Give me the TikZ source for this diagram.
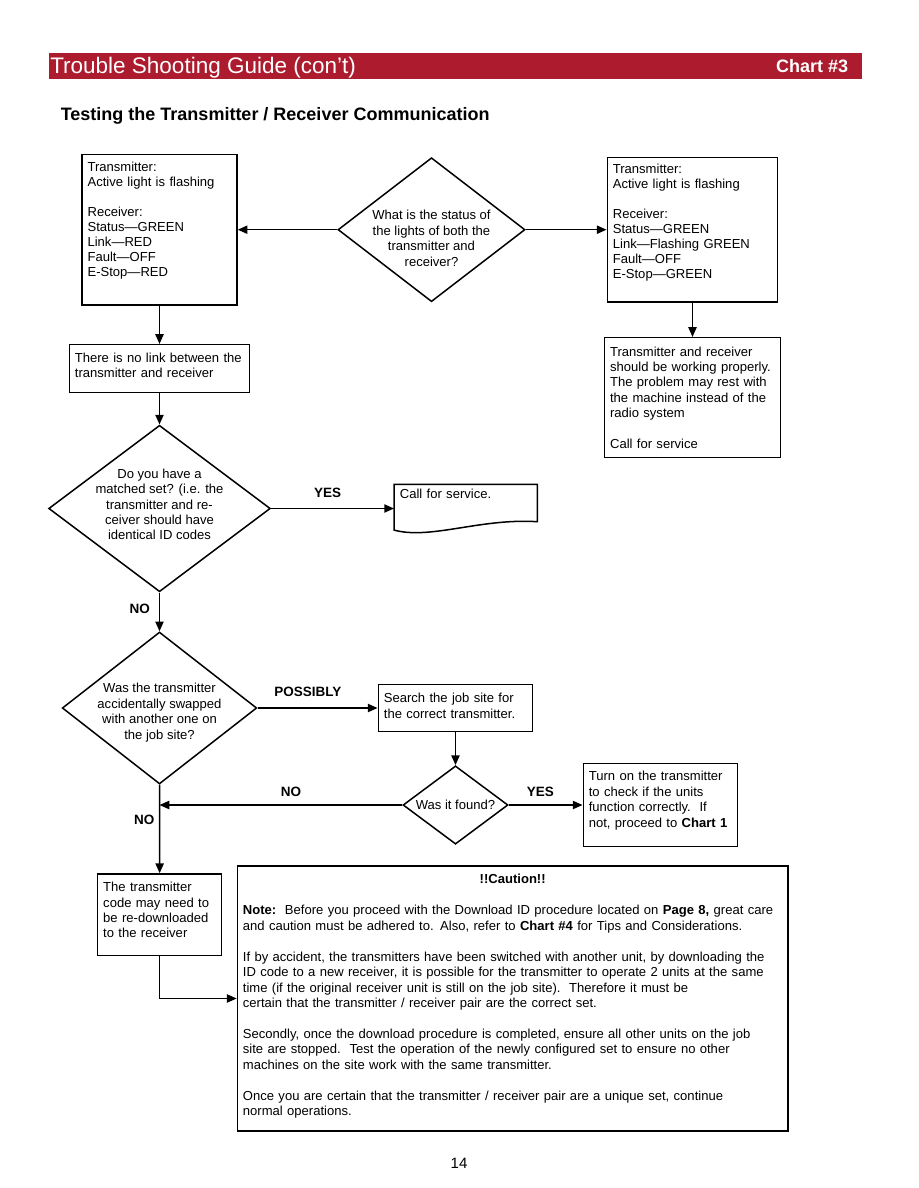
\documentclass[tikz,border=0pt]{standalone}
\usepackage{fontspec}
\setmainfont{Liberation Sans}
\usetikzlibrary{shapes.geometric,arrows.meta}
\definecolor{barred}{RGB}{172,27,46}
\newcommand{\pad}[1]{\rule[-#1]{0pt}{#1}}
\newcommand{\dtxt}[2][0pt]{\smash{\makebox[0pt]{\raisebox{\dimexpr-2.25pt-#1\relax}{\begin{tabular}{@{}c@{}}#2\end{tabular}}}}}

\begin{document}
\begin{tikzpicture}[x=0.6667pt, y=-0.6667pt,
  txt/.style={font=\fontsize{8.7}{10.3}\selectfont},
  box/.style={txt, draw, line width=1pt, align=left, inner xsep=3.7pt, inner ysep=0pt},
  dec/.style={txt, draw, shape=diamond, line width=1pt, inner sep=0pt},
  arr/.style={line width=1pt, -{Triangle[length=6.5pt,width=5.5pt]}},
  lbl/.style={font=\fontsize{9}{10.3}\selectfont\bfseries, inner sep=0pt}]
  \useasboundingbox (0,0) rectangle (918,1188);
  %% Header bar and titles
  \node[fill=barred, minimum width=542.3pt, minimum height=17.5pt, inner sep=0pt, anchor=north west] (bar) at (48.3,52.7) {};
  \node[anchor=base west, inner sep=0pt, text=white, font=\fontsize{15}{17}\selectfont] (title) at (50,73.3) {Trouble Shooting Guide (con’t)};
  \node[anchor=base east, inner sep=0pt, text=white, font=\fontsize{12}{14}\selectfont\bfseries] (chart) at (848.5,72.3) {Chart \#3};
  \node[anchor=base west, inner sep=0pt, font=\fontsize{12}{14}\selectfont\bfseries] (subtitle) at (60.5,121) {Testing the Transmitter / Receiver Communication};
  %% Top row
  \node[box, font=\fontsize{8.7}{10}\selectfont, text width=95.9pt, minimum height=100.5pt] (A) at (159.5,229.7)
    {Transmitter:\\ Active light is flashing\\[10pt] Receiver:\\ Status—GREEN\\ Link—RED\\ Fault—OFF\\ E-Stop—RED\pad{13.7pt}};
  \node[dec, minimum width=124.7pt, minimum height=96pt] (D1) at (431.5,229.7)
    {\dtxt[6.7pt]{What is the status of\\ the lights of both the\\ transmitter and\\ receiver?}};
  \node[box, font=\fontsize{8.7}{10}\selectfont, text width=106.2pt, minimum height=96.3pt] (B) at (692.5,229.7)
    {Transmitter:\\ Active light is flashing\\[10pt] Receiver:\\ Status—GREEN\\ Link—Flashing GREEN\\ Fault—OFF\\ E-Stop—GREEN\pad{11.7pt}};
  \draw[arr] (D1) -- (A);
  \draw[arr] (D1) -- (B);
  %% Second row
  \node[box, text width=112.8pt, minimum height=32pt] (C) at (159.5,368.7)
    {There is no link between the\\ transmitter and receiver\pad{4.5pt}};
  \node[box, text width=109.9pt, minimum height=80pt] (E) at (692.5,397.7)
    {Transmitter and receiver\\ should be working properly.\\ The problem may rest with\\ the machine instead of the\\ radio system\\[10.3pt] Call for service};
  \draw[arr] (A) -- (C);
  \draw[arr] (B) -- (E);
  %% Matched set question
  \node[dec, minimum width=147.8pt, minimum height=111pt] (D2) at (159.5,508.5)
    {\dtxt[-1.7pt]{Do you have a\\ matched set? (i.e. the\\ transmitter and re-\\ ceiver should have\\ identical ID codes}};
  \node[txt, anchor=north west, text width=87.7pt, align=left, inner xsep=3.7pt, inner ysep=3pt] (F) at (394,484.3) {Call for service.};
  \draw[line width=1pt] (F.north west) -- (F.north east) -- ++(0,37.4)
    .. controls +(-56.7,-3.7) and +(36,10) .. ([yshift=-30.5pt]F.north west) -- cycle;
  \draw[arr] (C) -- (D2);
  \draw[arr] (D2.east) -- (D2.east -| F.west) node[lbl, pos=0.46, above=6.8pt] {YES};
  %% Swapped transmitter question
  \node[dec, minimum width=129.7pt, minimum height=101.3pt] (D3) at (159.5,708)
    {\dtxt[3.3pt]{Was the transmitter\\ accidentally swapped\\ with another one on\\ the job site?}};
  \node[box, text width=95.5pt, minimum height=31.1pt] (G) at (455.5,708)
    {Search the job site for\\ the correct transmitter.\pad{3pt}};
  \node[dec, minimum width=70pt, minimum height=52.2pt] (D4) at (455.5,805)
    {\dtxt[1.1pt]{Was it found?}};
  \node[box, text width=95.3pt, minimum height=55.5pt] (H) at (660.3,805)
    {Turn on the transmitter\\ to check if the units\\ function correctly.\ \ If\\ not, proceed to \textbf{Chart 1}\pad{7.6pt}};
  \draw[arr] (D2) -- (D3) node[lbl, pos=0.41, left=6pt] {NO};
  \draw[arr] (D3.east) -- (G.west) node[lbl, pos=0.42, above=7pt] {POSSIBLY};
  \draw[arr] (G) -- (D4);
  \draw[arr] (D4.east) -- (H.west) node[lbl, pos=0.43, above=5pt] {YES};
  \draw[arr] (D4.west) -- (D4.west -| D3.south) node[lbl, pos=0.458, above=5pt] {NO};
  %% Re-download and caution
  \node[box, text width=75.3pt, minimum height=54.5pt] (I) at (159.7,914.8)
    {The transmitter\\ code may need to\\ be re-downloaded\\ to the receiver\pad{6.4pt}};
  \node[box, text width=359.7pt, minimum height=176.7pt] (J) at (512.7,998.5)
    {\makebox[\hsize]{\textbf{!!Caution!!}}\\[10.3pt]
     \textbf{Note:}\ \ Before you proceed with the Download ID procedure located on \textbf{Page 8,} great care\\
     and caution must be adhered to. Also, refer to \textbf{Chart \#4} for Tips and Considerations.\\[10.3pt]
     If by accident, the transmitters have been switched with another unit, by downloading the\\
     ID code to a new receiver, it is possible for the transmitter to operate 2 units at the same\\
     time (if the original receiver unit is still on the job site).\ \ Therefore it must be\\
     certain that the transmitter / receiver pair are the correct set.\\[10.3pt]
     Secondly, once the download procedure is completed, ensure all other units on the job\\
     site are stopped.\ \ Test the operation of the newly configured set to ensure no other\\
     machines on the site work with the same transmitter.\\[10.3pt]
     Once you are certain that the transmitter / receiver pair are a unique set, continue\\
     normal operations.\pad{4.6pt}};
  \draw[arr] (D3) -- (I) node[lbl, pos=0.4, left=3pt] {NO};
  \draw[arr] (I.south) |- (J.west);
  %% Page number
  \node[anchor=base, inner sep=0pt, font=\fontsize{10}{12}\selectfont] (pageno) at (459,1168) {14};
\end{tikzpicture}
\end{document}
